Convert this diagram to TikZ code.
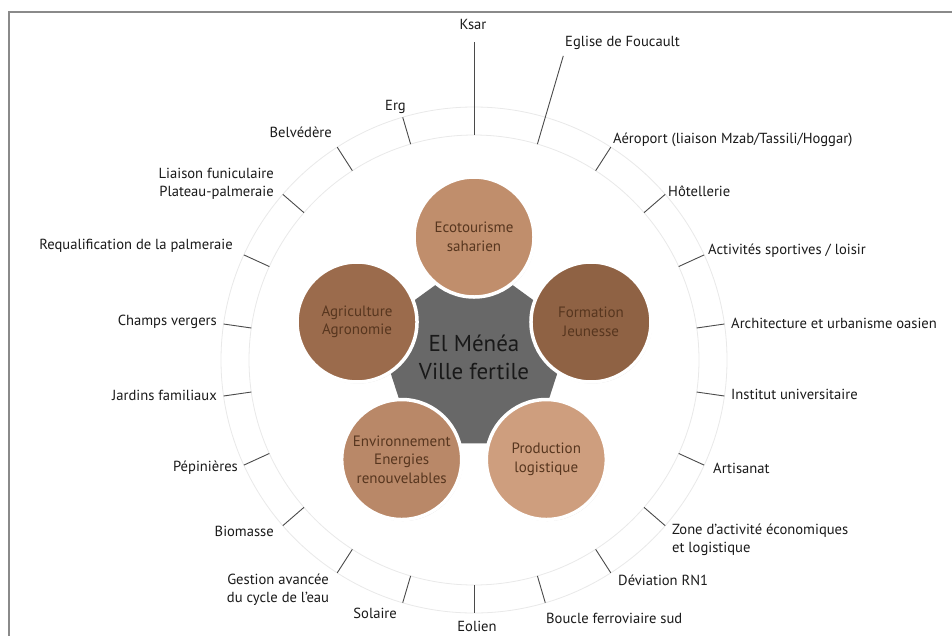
\documentclass[tikz,border=0pt]{standalone}
\usepackage{fontspec}
\setmainfont{PT Sans}
\usetikzlibrary{calc,shadows,shapes.geometric}
\definecolor{framegray}{HTML}{8A8A8A}
\definecolor{ringgray}{HTML}{E9E9E9}
\definecolor{tickgray}{HTML}{4A4A4A}
\definecolor{labelblack}{HTML}{1A1A1A}
\definecolor{centergray}{HTML}{686868}
\definecolor{themetext}{HTML}{57361F}
\definecolor{ceco}{HTML}{C08E6C}
\definecolor{cform}{HTML}{8F6244}
\definecolor{cagri}{HTML}{9B6B4C}
\definecolor{cenv}{HTML}{B98868}
\definecolor{cprod}{HTML}{CE9E7E}
\begin{document}
\begin{tikzpicture}[x=1pt,y=1pt,
  lbl/.style={font=\fontsize{14.6}{18}\selectfont, text=labelblack, inner sep=0pt},
  tickline/.style={draw=tickgray, line width=0.9pt},
  theme/.style={circle, minimum size=120pt, draw=white, line width=3.5pt,
    drop shadow={opacity=0.25, shadow xshift=1pt, shadow yshift=-1.5pt},
    font=\fontsize{15}{18.5}\selectfont, text=themetext, align=center, inner sep=0pt},
  ring/.style={draw=ringgray, line width=0.8pt}
]
\useasboundingbox (0,0) rectangle (952,-635);
\fill[white] (0,0) rectangle (952,-635);
\draw[framegray, line width=1.5pt] (9,-640) -- (9,-12) -- (960,-12);
\coordinate (C) at (474,-360);
\draw[ring] (C) circle[radius=225pt];
\draw[ring] (C) circle[radius=253pt];
% ticks
\foreach \k in {2,...,21} {
  \coordinate (ti\k) at ($(C)+({90-\k*360/22}:225pt)$);
  \coordinate (to\k) at ($(C)+({90-\k*360/22}:253pt)$);
  \draw[tickline] (ti\k) -- (to\k);
}
\coordinate (ti0) at ($(C)+(90:225pt)$);
\coordinate (to0) at ($(C)+(90:318pt)$);
\coordinate (ti1) at ($(C)+({90-360/22}:225pt)$);
\coordinate (to1) at ($(C)+({90-360/22}:317pt)$);
\draw[tickline] (ti0) -- (to0);
\draw[tickline] (ti1) -- (to1);
% centre
\node[regular polygon, regular polygon sides=5, minimum size=206pt, fill=centergray, inner sep=0pt] (pent) at (C) {};
\node[font=\fontsize{23}{28}\selectfont, text=black!90, align=center, inner sep=0pt] (centre) at (474,-357) {El Ménéa\\Ville fertile};
% themes
\node[theme, fill=ceco] (eco) at ($(C)+(90:123pt)$) {Ecotourisme\\saharien};
\node[theme, fill=cform] (form) at ($(C)+(18:123pt)$) {Formation\\Jeunesse};
\node[theme, fill=cprod] (prod) at ($(C)+(-54:123pt)$) {Production\\logistique};
\node[theme, fill=cenv] (env) at ($(C)+(-126:123pt)$) {Environnement\\Energies\\renouvelables};
\node[theme, fill=cagri] (agri) at ($(C)+(162:123pt)$) {Agriculture\\Agronomie};
% labels right side
\node[lbl] (l0) at (473,-24) {Ksar};
\node[lbl, anchor=west] (l1) at (565,-43) {Eglise de Foucault};
\node[lbl, anchor=west] (l2) at (613,-140) {Aéroport (liaison Mzab/Tassili/Hoggar)};
\node[lbl, anchor=west] (l3) at (668,-191) {Hôtellerie};
\node[lbl, anchor=west] (l4) at (708,-251) {Activités sportives / loisir};
\node[lbl, anchor=west] (l5) at (731,-323) {Architecture et urbanisme oasien};
\node[lbl, anchor=west] (l6) at (731,-394) {Institut universitaire};
\node[lbl, anchor=west] (l7) at (713,-468) {Artisanat};
\node[lbl, anchor=west, align=left] (l8) at (672,-540) {Zone d’activité économiques\\et logistique};
\node[lbl, anchor=west] (l9) at (618,-580) {Déviation RN1};
\node[lbl, anchor=west] (l10) at (546,-618) {Boucle ferroviaire sud};
\node[lbl] (l11) at (477,-626) {Eolien};
% labels left side
\node[lbl, anchor=east] (l12) at (397,-613) {Solaire};
\node[lbl, align=center] (l13) at (278,-590) {Gestion avancée\\du cycle de l’eau};
\node[lbl, anchor=east] (l14) at (274,-531) {Biomasse};
\node[lbl, anchor=east] (l15) at (238,-468) {Pépinières};
\node[lbl, anchor=east] (l16) at (217,-395) {Jardins familiaux};
\node[lbl, anchor=east] (l17) at (217,-322) {Champs vergers};
\node[lbl, anchor=east] (l18) at (233,-246) {Requalification de la palmeraie};
\node[lbl, anchor=east, align=right] (l19) at (274,-184) {Liaison funiculaire\\Plateau-palmeraie};
\node[lbl, anchor=east] (l20) at (332,-132) {Belvédère};
\node[lbl, anchor=east] (l21) at (406,-107) {Erg};
\end{tikzpicture}
\end{document}
